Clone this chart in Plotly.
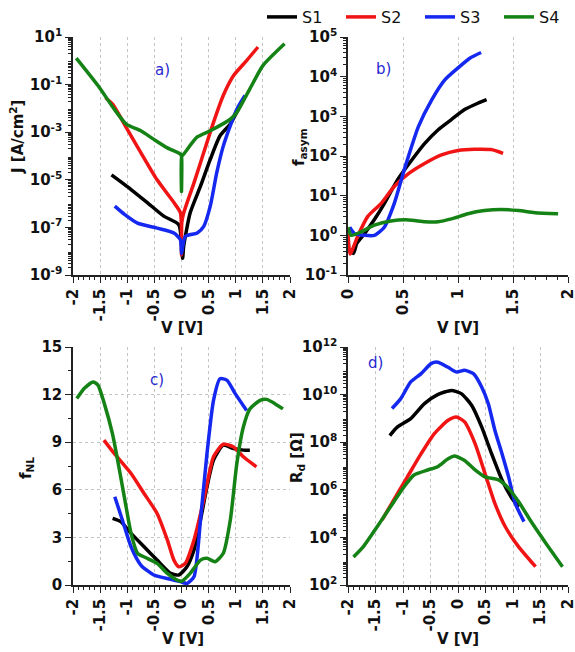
import plotly.graph_objects as go

# ---------------- data ----------------
series_names = ["S1", "S2", "S3", "S4"]
colors = ["#000000", "#f01414", "#1428f0", "#148214"]

# a) J-V
a_v_s1 = [-1.29, -0.93, -0.63, -0.32, -0.05, 0.02, 0.04, 0.16, 0.35, 0.53, 0.71, 0.9, 1.08, 1.14]
a_j_s1 = [1.6e-5, 3.9e-6, 1.1e-6, 2.9e-7, 1.3e-7, 5e-9, 1.6e-8, 4.1e-7, 5.4e-6, 7.2e-5, 7.1e-4, 2.2e-3, 1.3e-2, 2.5e-2]
a_v_s2 = [-1.4, -1.27, -1.02, -0.75, -0.45, -0.14, -0.02, 0.0, 0.005, 0.04, 0.23, 0.41, 0.59, 0.77, 0.96, 1.2, 1.41]
a_j_s2 = [2.8e-2, 1.5e-2, 1.6e-3, 1.4e-4, 1.0e-5, 1.1e-6, 4.1e-7, 7e-9, 1.6e-7, 4e-7, 7.4e-6, 1.4e-4, 2.6e-3, 3.5e-2, 0.24, 1.02, 3.8]
a_v_s3 = [-1.23, -1.05, -0.81, -0.45, -0.14, -0.02, 0.0, 0.07, 0.29, 0.41, 0.53, 0.65, 0.77, 0.9, 1.02, 1.17]
a_j_s3 = [7.8e-7, 3.5e-7, 1.5e-7, 9.3e-8, 5.8e-8, 3e-8, 7.9e-9, 4.2e-8, 5.8e-8, 1.1e-7, 7.8e-7, 2e-5, 2.6e-4, 1.9e-3, 9.3e-3, 3.5e-2]
a_v_s4 = [-1.94, -1.54, -1.24, -1.02, -0.75, -0.51, -0.26, -0.02, 0.0, 0.0, 0.005, 0.04, 0.29, 0.53, 0.9, 1.02, 1.26, 1.5, 1.9]
a_j_s4 = [1.3, 9.1e-2, 9.3e-3, 2.2e-3, 1.15e-3, 5e-4, 2.2e-4, 1.2e-4, 1e-4, 3.2e-6, 1e-4, 1.2e-4, 6.3e-4, 1.15e-3, 3.5e-3, 6.8e-3, 6.6e-2, 0.63, 5.2]

# b) f_asym
b_v_s1 = [0.02, 0.05, 0.08, 0.15, 0.24, 0.33, 0.45, 0.58, 0.7, 0.82, 0.94, 1.06, 1.18, 1.26]
b_f_s1 = [0.42, 0.35, 0.63, 1.1, 2.5, 6.3, 25, 79, 210, 460, 830, 1480, 2140, 2630]
b_v_s2 = [0.0, 0.02, 0.09, 0.18, 0.3, 0.42, 0.55, 0.7, 0.85, 1.0, 1.15, 1.3, 1.41]
b_f_s2 = [1.1, 0.34, 0.98, 3.0, 6.3, 17, 36, 66, 107, 138, 148, 145, 117]
b_v_s3 = [0.015, 0.06, 0.15, 0.24, 0.33, 0.42, 0.52, 0.64, 0.76, 0.88, 1.0, 1.11, 1.21]
b_f_s3 = [1.6, 1.1, 1.0, 1.0, 1.6, 6.3, 54, 550, 2570, 8300, 16600, 29500, 40700]
b_v_s4 = [0.0, 0.03, 0.12, 0.24, 0.39, 0.55, 0.7, 0.82, 0.94, 1.09, 1.24, 1.39, 1.55, 1.7, 1.91]
b_f_s4 = [1.6, 1.0, 1.23, 1.8, 2.3, 2.45, 2.2, 2.2, 2.6, 3.5, 4.2, 4.5, 4.2, 3.7, 3.5]

# c) f_NL
c_v_s1 = [-1.27, -1.12, -0.93, -0.69, -0.45, -0.2, -0.05, 0.1, 0.23, 0.35, 0.47, 0.59, 0.77, 0.96, 1.14, 1.26]
c_f_s1 = [4.2, 3.99, 3.25, 2.41, 1.57, 0.73, 0.63, 1.15, 2.2, 4.1, 6.19, 7.87, 8.81, 8.6, 8.5, 8.5]
c_v_s2 = [-1.43, -1.24, -0.93, -0.69, -0.45, -0.26, -0.14, -0.05, 0.07, 0.23, 0.41, 0.59, 0.77, 0.96, 1.14, 1.38]
c_f_s2 = [9.13, 8.29, 7.03, 5.77, 4.51, 2.83, 1.57, 1.15, 1.36, 2.83, 5.35, 8.08, 8.87, 8.7, 8.08, 7.45]
c_v_s3 = [-1.23, -1.09, -0.93, -0.75, -0.51, -0.2, -0.02, 0.1, 0.23, 0.35, 0.47, 0.59, 0.71, 0.84, 0.99, 1.2]
c_f_s3 = [5.56, 4.1, 2.41, 1.26, 0.63, 0.36, 0.21, 0.1, 0.52, 4.1, 8.29, 11.64, 13.0, 12.9, 12.06, 11.0]
c_v_s4 = [-1.93, -1.79, -1.63, -1.54, -1.42, -1.27, -1.12, -1.02, -0.93, -0.81, -0.63, -0.45, -0.26, -0.08, 0.01,
          0.16, 0.35, 0.47, 0.62, 0.77, 0.9, 1.02, 1.14, 1.26, 1.45, 1.57, 1.72, 1.87]
c_f_s4 = [11.75, 12.4, 12.8, 12.6, 11.4, 9.5, 6.8, 4.9, 3.25, 2.0, 1.68, 1.36, 0.73, 0.31, 0.25,
          0.73, 1.57, 1.68, 1.47, 2.0, 4.1, 7.66, 9.96, 11.1, 11.64, 11.7, 11.43, 11.1]

# d) R_d
d_v_s1 = [-1.24, -1.1, -0.86, -0.61, -0.37, -0.12, 0.06, 0.25, 0.43, 0.61, 0.8, 0.98, 1.1]
d_r_s1 = [1.9e8, 4.4e8, 9.8e8, 4.2e9, 1.0e10, 1.5e10, 1.1e10, 3.5e9, 4.4e8, 3.3e7, 2.6e6, 4.4e5, 1.9e5]
d_v_s2 = [-1.38, -1.17, -0.92, -0.67, -0.43, -0.18, -0.03, 0.12, 0.31, 0.49, 0.67, 0.86, 1.1, 1.41]
d_r_s2 = [5.4e4, 3.7e5, 3.5e6, 3.3e7, 2.3e8, 8.3e8, 1.15e9, 7.1e8, 8.7e7, 4.9e6, 2.7e5, 2.8e4, 4.1e3, 5.9e2]
d_v_s3 = [-1.2, -1.04, -0.86, -0.67, -0.49, -0.37, -0.18, -0.03, 0.12, 0.28, 0.43, 0.55, 0.67, 0.8, 0.92, 1.04, 1.2]
d_r_s3 = [2.6e9, 6.8e9, 3.4e10, 7.6e10, 2.0e11, 2.3e11, 1.4e11, 8.9e10, 1.05e11, 7.6e10, 2.1e10, 4.2e9, 3.2e8, 3.3e7, 3.5e6, 2.7e5, 4.6e4]
d_v_s4 = [-1.9, -1.72, -1.47, -1.23, -0.98, -0.8, -0.55, -0.37, -0.18, -0.06, 0.12, 0.31, 0.49, 0.74, 0.92, 1.1, 1.35, 1.6, 1.9]
d_r_s4 = [1.5e3, 4.1e3, 2.8e4, 1.9e5, 1.35e6, 4.2e6, 6.8e6, 9.3e6, 2.0e7, 2.6e7, 1.7e7, 6.8e6, 3.5e6, 2.6e6, 1.15e6, 3.2e5, 3.9e4, 5.6e3, 5.9e2]

# tick labels
x_full_ticks = [-2, -1.5, -1, -0.5, 0, 0.5, 1, 1.5, 2]
x_full_text = ["-2", "-1.5", "-1", "-0.5", "0", "0.5", "1", "1.5", "2"]
x_half_ticks = [0, 0.5, 1, 1.5, 2]
x_half_text = ["0", "0.5", "1", "1.5", "2"]
c_y_ticks = [0, 3, 6, 9, 12, 15]
c_y_text = ["0", "3", "6", "9", "12", "15"]

a_label_exps = [-9, -7, -5, -3, -1, 1]
a_all_exps = list(range(-9, 2))
b_label_exps = [-1, 0, 1, 2, 3, 4, 5]
b_all_exps = list(range(-1, 6))
d_label_exps = [2, 4, 6, 8, 10, 12]
d_all_exps = list(range(2, 13))

# ---------------- figure ----------------
W, H = 575, 652
FONT = "DejaVu Sans"
TICKFONT = dict(family=FONT, size=15, color="#111111", weight="bold")
TITLEFONT = dict(family=FONT, size=15, color="#111111", weight="bold")
AXC = "#222222"

fig = go.Figure()

panels = [
    ("x", "y", [(a_v_s1, a_j_s1), (a_v_s2, a_j_s2), (a_v_s3, a_j_s3), (a_v_s4, a_j_s4)]),
    ("x2", "y2", [(b_v_s1, b_f_s1), (b_v_s2, b_f_s2), (b_v_s3, b_f_s3), (b_v_s4, b_f_s4)]),
    ("x3", "y3", [(c_v_s1, c_f_s1), (c_v_s2, c_f_s2), (c_v_s3, c_f_s3), (c_v_s4, c_f_s4)]),
    ("x4", "y4", [(d_v_s1, d_r_s1), (d_v_s2, d_r_s2), (d_v_s3, d_r_s3), (d_v_s4, d_r_s4)]),
]
for pi, (xa, ya, data) in enumerate(panels):
    for si, (xs, ys) in enumerate(data):
        fig.add_trace(go.Scatter(
            x=xs, y=ys, xaxis=xa, yaxis=ya, mode="lines",
            line=dict(color=colors[si], width=3.5, shape="spline", smoothing=0.6),
            name=series_names[si], showlegend=(pi == 0), legendgroup=series_names[si],
        ))

def px_x(p):
    return p / W

def px_y(p):
    return 1 - p / H

xl = [px_x(73), px_x(290)]
xr = [px_x(348), px_x(568)]
yt = [px_y(275), px_y(37)]
yb = [px_y(585), px_y(347)]

GRID = dict(gridcolor="#c4c4c4", griddash="dot", gridwidth=1)
base = dict(showline=True, linecolor=AXC, linewidth=1.5, ticks="outside",
            tickcolor=AXC, ticklen=6, tickwidth=1.3, tickfont=TICKFONT,
            zeroline=False, mirror=False, ticklabeloverflow="allow")

def xaxis(domain, anchor, ticks, text, rng):
    return dict(domain=domain, anchor=anchor, range=rng, tickmode="array",
                tickvals=ticks, ticktext=text, tickangle=-90, showgrid=True,
                minor=dict(ticks="outside", ticklen=3, tickcolor=AXC, dtick=0.1, showgrid=False),
                **GRID, **base)

def log_minor(exps):
    return [m * 10.0 ** e for e in exps[:-1] for m in range(2, 10)]

def logaxis(domain, anchor, label_exps, all_exps):
    return dict(domain=domain, anchor=anchor, type="log", range=[all_exps[0], all_exps[-1]],
                tickmode="array", tickvals=[10.0 ** e for e in label_exps],
                ticktext=["10<sup>%d</sup>" % e for e in label_exps], showgrid=False,
                minor=dict(ticks="outside", ticklen=3, tickcolor=AXC,
                           tickmode="array", tickvals=log_minor(all_exps), showgrid=False),
                **base)

def gridaxis(domain, anchor, over, all_exps):
    # overlay axis: ticks + grid at every decade, no labels
    return dict(domain=domain, anchor=anchor, overlaying=over, side="left", type="log",
                range=[all_exps[0], all_exps[-1]], tickmode="array",
                tickvals=[10.0 ** e for e in all_exps], showticklabels=False,
                ticks="outside", ticklen=6, tickwidth=1.3, tickcolor=AXC,
                showline=False, zeroline=False, showgrid=True, **GRID)

fig.update_layout(
    width=W, height=H, margin=dict(l=0, r=0, t=0, b=0, autoexpand=False),
    paper_bgcolor="white", plot_bgcolor="white",
    xaxis=xaxis(xl, "y", x_full_ticks, x_full_text, [-2, 2]),
    yaxis=logaxis(yt, "x", a_label_exps, a_all_exps),
    yaxis5=gridaxis(yt, "x", "y", a_all_exps),
    xaxis2=xaxis(xr, "y2", x_half_ticks, x_half_text, [0, 2]),
    yaxis2=logaxis(yt, "x2", b_label_exps, b_all_exps),
    yaxis6=gridaxis(yt, "x2", "y2", b_all_exps),
    xaxis3=xaxis(xl, "y3", x_full_ticks, x_full_text, [-2, 2]),
    yaxis3=dict(domain=yb, anchor="x3", range=[0, 15], tickmode="array",
                tickvals=c_y_ticks, ticktext=c_y_text, showgrid=True,
                minor=dict(ticks="outside", ticklen=3, tickcolor=AXC, dtick=1.5, showgrid=False),
                **GRID, **base),
    xaxis4=xaxis(xr, "y4", x_full_ticks, x_full_text, [-2, 2]),
    yaxis4=logaxis(yb, "x4", d_label_exps, d_all_exps),
    yaxis7=gridaxis(yb, "x4", "y4", d_all_exps),
    legend=dict(orientation="h", x=px_x(262), y=px_y(0), xanchor="left", yanchor="top",
                font=dict(family=FONT, size=16, color="#111111"),
                itemwidth=30, bgcolor="rgba(0,0,0,0)",
                entrywidth=34, entrywidthmode="pixels"),
    showlegend=True,
)

annots = [
    ("a)", 162, 70, 0, "#2828d0"), ("b)", 383, 69, 0, "#2828d0"),
    ("c)", 157, 380, 0, "#2828d0"), ("d)", 375, 363, 0, "#2828d0"),
    ("J [A/cm<sup>2</sup>]", 17, 137, -90, "#111111"),
    ("f<sub>asym</sub>", 299, 147, -90, "#111111"),
    ("f<sub>NL</sub>", 26, 468, -90, "#111111"),
    ("R<sub>d</sub> [Ω]", 297, 458, -90, "#111111"),
    ("V [V]", 182, 328, 0, "#111111"),
    ("V [V]", 458, 328, 0, "#111111"),
    ("V [V]", 183, 639, 0, "#111111"),
    ("V [V]", 458, 639, 0, "#111111"),
]
for text, x, y, ang, col in annots:
    f = dict(TITLEFONT)
    f["color"] = col
    if text.endswith(")"):
        f["weight"] = "normal"
    fig.add_annotation(text=text, x=px_x(x), y=px_y(y), xref="paper", yref="paper",
                       showarrow=False, textangle=ang, font=f, xanchor="center", yanchor="middle")

fig.write_html("out.html", config={"displayModeBar": False},
               post_script="document.body.style.margin='0';")
